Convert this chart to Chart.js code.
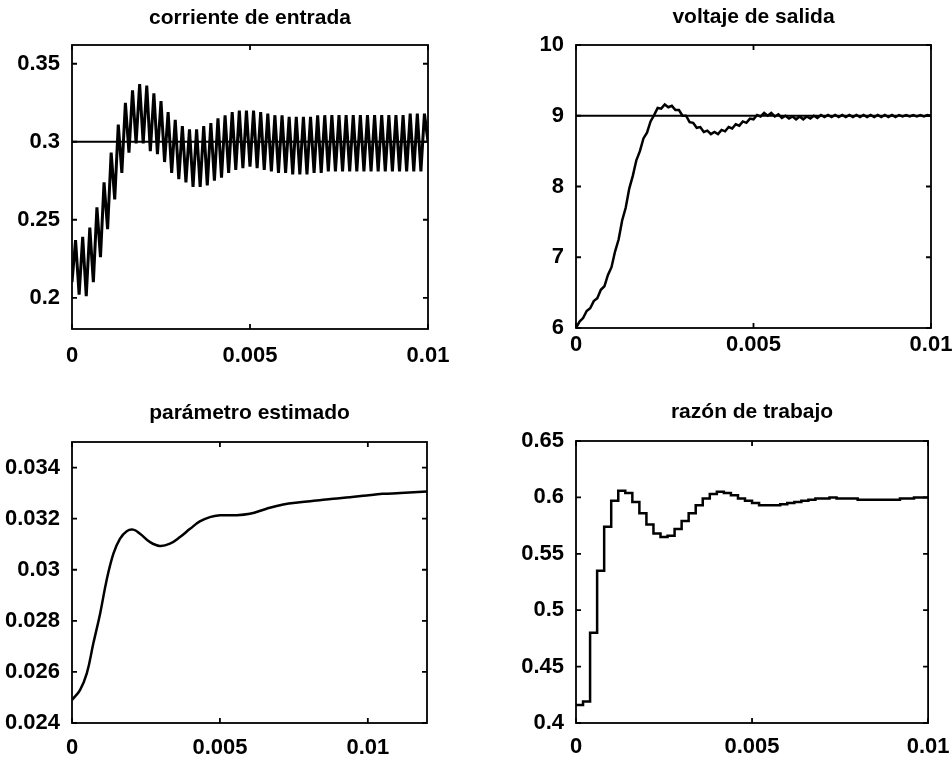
<!DOCTYPE html>
<html>
<head>
    <meta charset="UTF-8">
    <title>Respuesta del convertidor</title>
    <script src="https://cdn.jsdelivr.net/npm/chart.js"></script>
    <style>
        body {
            margin: 0;
            padding: 0;
            background-color: #fff;
        }
        .panel {
            position: absolute;
            left: 0;
            top: 0;
        }
    </style>
</head>
<body>
    <canvas id="corriente" class="panel" width="952" height="759"></canvas>
    <canvas id="voltaje" class="panel" width="952" height="759"></canvas>
    <canvas id="parametro" class="panel" width="952" height="759"></canvas>
    <canvas id="razon" class="panel" width="952" height="759"></canvas>

    <script>
        // rejillas de muestreo: medio periodo de conmutación y periodo PWM
        const pasoFino = 0.0001;
        const pasoPWM = 0.0002;
        const tFino = Array.from({ length: 101 }, (_, i) => +(i * pasoFino).toFixed(4));
        const tPWM = Array.from({ length: 51 }, (_, i) => +(i * pasoPWM).toFixed(4));

        // corriente de entrada (picos y valles del rizado)
        const corriente = [
            0.210, 0.237, 0.202, 0.239, 0.201, 0.245, 0.210, 0.258, 0.226, 0.274,
            0.244, 0.293, 0.263, 0.311, 0.280, 0.325, 0.293, 0.333, 0.299, 0.337,
            0.299, 0.336, 0.294, 0.331, 0.292, 0.326, 0.287, 0.319, 0.280, 0.314,
            0.276, 0.310, 0.274, 0.308, 0.271, 0.308, 0.271, 0.310, 0.272, 0.312,
            0.275, 0.315, 0.277, 0.317, 0.280, 0.319, 0.282, 0.320, 0.283, 0.320,
            0.284, 0.320, 0.283, 0.319, 0.282, 0.318, 0.281, 0.317, 0.280, 0.317,
            0.280, 0.316, 0.279, 0.316, 0.279, 0.316, 0.279, 0.316, 0.280, 0.317,
            0.280, 0.317, 0.281, 0.317, 0.281, 0.317, 0.281, 0.317, 0.281, 0.317,
            0.281, 0.317, 0.281, 0.317, 0.281, 0.317, 0.281, 0.317, 0.281, 0.317,
            0.281, 0.317, 0.281, 0.317, 0.281, 0.318, 0.281, 0.318, 0.281, 0.318,
            0.300
        ];
        const corrienteRef = 0.3;

        // voltaje de salida
        const voltaje = [
            6.00, 6.09, 6.14, 6.24, 6.28, 6.38, 6.42, 6.54, 6.59, 6.75,
            6.86, 7.08, 7.25, 7.52, 7.70, 7.97, 8.15, 8.37, 8.50, 8.68,
            8.76, 8.92, 9.01, 9.11, 9.10, 9.16, 9.12, 9.14, 9.08, 9.08,
            9.00, 9.00, 8.91, 8.90, 8.83, 8.84, 8.77, 8.79, 8.74, 8.77,
            8.74, 8.80, 8.78, 8.84, 8.82, 8.88, 8.86, 8.92, 8.90, 8.96,
            8.95, 9.01, 8.99, 9.04, 9.00, 9.04, 8.99, 9.02, 8.97, 9.00,
            8.96, 8.99, 8.95, 8.99, 8.95, 8.99, 8.96, 9.00, 8.97, 9.01,
            8.98, 9.01, 8.98, 9.01, 8.98, 9.01, 8.98, 9.01, 8.98, 9.01,
            8.98, 9.01, 8.98, 9.01, 8.98, 9.01, 8.98, 9.01, 8.98, 9.01,
            8.98, 9.01, 8.99, 9.01, 8.99, 9.01, 8.99, 9.01, 8.99, 9.01,
            9.00
        ];
        const voltajeRef = 9;

        // parámetro estimado
        const paramTiempo = [
            0, 0.00027, 0.0005, 0.00072, 0.00095, 0.00117, 0.0014, 0.00162, 0.00185, 0.00207,
            0.0023, 0.00264, 0.00297, 0.00331, 0.00365, 0.00399, 0.00432, 0.00466, 0.005, 0.00545,
            0.00601, 0.00658, 0.00714, 0.0077, 0.00827, 0.00883, 0.0094, 0.00996, 0.0105, 0.0111,
            0.012
        ];
        const paramValor = [
            0.02490, 0.02529, 0.02594, 0.02711, 0.02828, 0.02959, 0.03063, 0.03121, 0.03151, 0.03157,
            0.03141, 0.03108, 0.03093, 0.03102, 0.03128, 0.03160, 0.03189, 0.03206, 0.03213, 0.03213,
            0.03219, 0.03239, 0.03255, 0.03264, 0.03271, 0.03278, 0.03284, 0.03291, 0.03297, 0.03300,
            0.03306
        ];

        // razón de trabajo (un valor por periodo PWM)
        const razonTrabajo = [
            0.416, 0.419, 0.480, 0.535, 0.574, 0.597, 0.606, 0.604, 0.596, 0.586,
            0.576, 0.568, 0.565, 0.566, 0.572, 0.579, 0.586, 0.593, 0.599, 0.603,
            0.605, 0.604, 0.602, 0.599, 0.597, 0.595, 0.593, 0.593, 0.593, 0.594,
            0.595, 0.596, 0.597, 0.598, 0.599, 0.599, 0.600, 0.599, 0.599, 0.599,
            0.598, 0.598, 0.598, 0.598, 0.598, 0.598, 0.599, 0.599, 0.600, 0.600,
            0.600
        ];

        // marcas de los ejes
        const ticksX = [0, 0.005, 0.01];
        const ticksCorriente = [0.2, 0.25, 0.3, 0.35];
        const ticksVoltaje = [6, 7, 8, 9, 10];
        const ticksParam = [0.024, 0.026, 0.028, 0.03, 0.032, 0.034];
        const ticksRazon = [0.4, 0.45, 0.5, 0.55, 0.6, 0.65];

        const familia = '"Liberation Sans", Arial, Helvetica, sans-serif';
        const fuenteEjes = { family: familia, size: 22, weight: 'bold' };

        // caja cerrada con marcas hacia dentro en los cuatro lados
        const marco = {
            id: 'marco',
            afterDatasetsDraw(chart) {
                const { ctx, chartArea: a, scales: { x, y } } = chart;
                const largo = 5;
                ctx.save();
                ctx.strokeStyle = '#000';
                ctx.lineWidth = 1.8;
                ctx.strokeRect(a.left, a.top, a.right - a.left, a.bottom - a.top);
                ctx.beginPath();
                x.ticks.forEach(t => {
                    const px = x.getPixelForValue(t.value);
                    ctx.moveTo(px, a.bottom); ctx.lineTo(px, a.bottom - largo);
                    ctx.moveTo(px, a.top); ctx.lineTo(px, a.top + largo);
                });
                y.ticks.forEach(t => {
                    const py = y.getPixelForValue(t.value);
                    ctx.moveTo(a.left, py); ctx.lineTo(a.left + largo, py);
                    ctx.moveTo(a.right, py); ctx.lineTo(a.right - largo, py);
                });
                ctx.stroke();
                ctx.restore();
            }
        };

        const puntos = (xs, ys) => xs.map((t, i) => ({ x: t, y: ys[i] }));

        function panel(id, cfg) {
            const ctx = document.getElementById(id).getContext('2d');
            new Chart(ctx, {
                type: 'line',
                data: { datasets: cfg.datasets },
                options: {
                    responsive: false,
                    animation: false,
                    events: [],
                    layout: { padding: cfg.padding, autoPadding: false },
                    elements: { point: { radius: 0 } },
                    plugins: {
                        legend: { display: false },
                        tooltip: { enabled: false },
                        title: {
                            display: true,
                            text: cfg.titulo,
                            color: '#000',
                            fullSize: false,
                            font: { family: familia, size: 21, weight: 'bold', lineHeight: 1.2 },
                            padding: cfg.tituloPad
                        }
                    },
                    scales: {
                        x: {
                            type: 'linear',
                            min: 0,
                            max: cfg.xMax,
                            grid: { display: false },
                            border: { display: false },
                            afterBuildTicks: s => { s.ticks = ticksX.map(v => ({ value: v })); },
                            afterFit: s => { s.height = cfg.altoX; },
                            ticks: {
                                color: '#000',
                                font: fuenteEjes,
                                padding: cfg.padX,
                                maxRotation: 0,
                                autoSkip: false,
                                callback: v => String(v)
                            }
                        },
                        y: {
                            type: 'linear',
                            min: cfg.yMin,
                            max: cfg.yMax,
                            grid: { display: false },
                            border: { display: false },
                            afterBuildTicks: s => { s.ticks = cfg.yTicks.map(v => ({ value: v })); },
                            afterFit: s => { s.width = 72; },
                            ticks: {
                                color: '#000',
                                font: fuenteEjes,
                                padding: 4,
                                autoSkip: false,
                                callback: v => String(v)
                            }
                        }
                    }
                },
                plugins: [marco]
            });
        }

        const curva = (data, extra) => Object.assign({
            data: data,
            borderColor: '#000',
            borderWidth: 2.5,
            tension: 0,
            fill: false
        }, extra || {});

        document.addEventListener('DOMContentLoaded', function() {
            panel('corriente', {
                titulo: 'corriente de entrada',
                padding: { left: 0, top: 0, right: 524, bottom: 379 },
                tituloPad: { top: 5.4, bottom: 14.4 },
                altoX: 51, padX: 6,
                xMax: 0.01, yMin: 0.18, yMax: 0.362, yTicks: ticksCorriente,
                datasets: [
                    curva([{ x: 0, y: corrienteRef }, { x: 0.01, y: corrienteRef }], { borderWidth: 1.8 }),
                    curva(puntos(tFino, corriente), { borderWidth: 3 })
                ]
            });

            panel('voltaje', {
                titulo: 'voltaje de salida',
                padding: { left: 504, top: 0, right: 21, bottom: 380 },
                tituloPad: { top: 4.4, bottom: 15.4 },
                altoX: 51, padX: -4,
                xMax: 0.01, yMin: 6, yMax: 10, yTicks: ticksVoltaje,
                datasets: [
                    curva([{ x: 0, y: voltajeRef }, { x: 0.01, y: voltajeRef }], { borderWidth: 1.8 }),
                    curva(puntos(tFino, voltaje))
                ]
            });

            panel('parametro', {
                titulo: 'parámetro estimado',
                padding: { left: 0, top: 380, right: 525, bottom: 0 },
                tituloPad: { top: 20.4, bottom: 16.4 },
                altoX: 36, padX: 4,
                xMax: 0.012, yMin: 0.024, yMax: 0.035, yTicks: ticksParam,
                datasets: [
                    curva(puntos(paramTiempo, paramValor), { tension: 0.4 })
                ]
            });

            panel('razon', {
                titulo: 'razón de trabajo',
                padding: { left: 504, top: 380, right: 23, bottom: 0 },
                tituloPad: { top: 19.7, bottom: 16.1 },
                altoX: 36, padX: 2.5,
                xMax: 0.01, yMin: 0.4, yMax: 0.65, yTicks: ticksRazon,
                datasets: [
                    curva(puntos(tPWM, razonTrabajo), { stepped: 'before' })
                ]
            });
        });
    </script>
</body>
</html>
